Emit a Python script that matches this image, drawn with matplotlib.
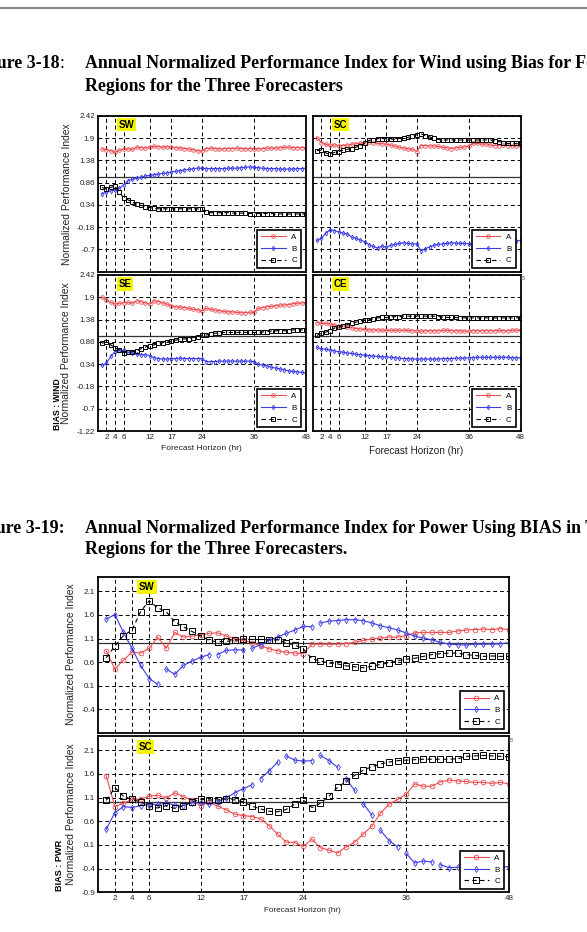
import numpy as np
import matplotlib
matplotlib.use('Agg')
import matplotlib.pyplot as plt
from matplotlib.lines import Line2D

# ---------------- data ----------------
hours = list(range(1, 49))
labels = ['A', 'B', 'C']

wind_xticks = [2, 4, 6, 12, 17, 24, 36, 48]
wind_yticks = [-1.22, -0.7, -0.18, 0.34, 0.86, 1.38, 1.9, 2.42]
pwr_xticks = [2, 4, 6, 12, 17, 24, 36, 48]
pwr_yticks = [-0.9, -0.4, 0.1, 0.6, 1.1, 1.6, 2.1]

wsw_A = [1.65,1.63,1.61,1.57,1.62,1.65,1.65,1.64,1.69,1.68,1.67,1.70,
         1.71,1.70,1.69,1.70,1.69,1.68,1.67,1.66,1.65,1.63,1.61,1.60,
         1.66,1.67,1.66,1.65,1.65,1.66,1.66,1.67,1.66,1.65,1.66,1.65,
         1.65,1.66,1.67,1.67,1.67,1.68,1.69,1.69,1.68,1.68,1.68,1.68]
wsw_B = [0.60,0.64,0.67,0.69,0.73,0.81,0.91,0.94,0.96,0.99,1.02,1.03,
         1.05,1.06,1.08,1.09,1.11,1.13,1.14,1.16,1.17,1.19,1.20,1.20,
         1.19,1.19,1.19,1.19,1.19,1.20,1.20,1.20,1.21,1.22,1.23,1.22,
         1.21,1.20,1.19,1.19,1.19,1.18,1.18,1.18,1.18,1.19,1.19,1.20]
wsw_C = [0.75,0.71,0.75,0.78,0.64,0.50,0.46,0.40,0.36,0.33,0.30,0.28,
         0.26,0.25,0.25,0.25,0.25,0.25,0.25,0.25,0.25,0.25,0.25,0.24,
         0.17,0.16,0.16,0.16,0.16,0.16,0.15,0.15,0.15,0.15,0.14,0.14,
         0.14,0.14,0.14,0.14,0.13,0.13,0.13,0.13,0.13,0.13,0.13,0.13]

wsc_A = [1.91,1.80,1.76,1.74,1.74,1.73,1.73,1.74,1.76,1.77,1.78,1.80,
         1.81,1.80,1.78,1.77,1.76,1.74,1.72,1.69,1.67,1.65,1.64,1.59,
         1.73,1.73,1.72,1.72,1.71,1.69,1.68,1.66,1.68,1.69,1.70,1.72,
         1.78,1.78,1.76,1.77,1.74,1.73,1.73,1.74,1.73,1.72,1.72,1.72]
wsc_B = [-0.49,-0.44,-0.32,-0.24,-0.26,-0.29,-0.32,-0.34,-0.41,-0.44,-0.48,-0.52,
         -0.59,-0.63,-0.67,-0.62,-0.65,-0.60,-0.58,-0.56,-0.54,-0.56,-0.57,-0.57,
         -0.73,-0.68,-0.64,-0.60,-0.58,-0.57,-0.56,-0.54,-0.55,-0.56,-0.56,-0.57,
         -0.56,-0.55,-0.55,-0.56,-0.56,-0.55,-0.54,-0.53,-0.52,-0.51,-0.50,-0.49]
wsc_C = [1.61,1.62,1.56,1.52,1.57,1.59,1.62,1.64,1.66,1.69,1.73,1.78,
         1.85,1.87,1.89,1.89,1.89,1.88,1.88,1.89,1.90,1.92,1.95,1.98,
         2.00,1.96,1.93,1.90,1.87,1.86,1.86,1.86,1.86,1.86,1.86,1.86,
         1.86,1.86,1.86,1.86,1.86,1.84,1.82,1.80,1.78,1.78,1.78,1.78]

wse_A = [1.90,1.84,1.78,1.74,1.76,1.77,1.78,1.76,1.82,1.80,1.77,1.74,
         1.82,1.80,1.77,1.74,1.70,1.68,1.67,1.66,1.64,1.62,1.61,1.58,
         1.64,1.62,1.60,1.59,1.57,1.56,1.56,1.55,1.54,1.54,1.55,1.55,
         1.64,1.66,1.68,1.69,1.70,1.72,1.72,1.73,1.75,1.76,1.77,1.77]
wse_B = [0.31,0.36,0.52,0.63,0.67,0.66,0.62,0.59,0.57,0.56,0.56,0.54,
         0.49,0.47,0.46,0.46,0.47,0.47,0.48,0.47,0.47,0.47,0.47,0.47,
         0.40,0.40,0.40,0.41,0.41,0.41,0.41,0.41,0.41,0.41,0.41,0.40,
         0.34,0.32,0.30,0.27,0.25,0.23,0.21,0.18,0.17,0.16,0.15,0.13]
wse_C = [0.83,0.85,0.79,0.72,0.67,0.61,0.62,0.63,0.65,0.70,0.74,0.77,
         0.79,0.83,0.84,0.86,0.88,0.90,0.92,0.93,0.93,0.96,0.98,1.02,
         1.02,1.04,1.06,1.07,1.08,1.08,1.08,1.08,1.08,1.08,1.08,1.08,
         1.08,1.09,1.10,1.11,1.12,1.12,1.12,1.12,1.14,1.14,1.14,1.14]

wce_A = [1.31,1.29,1.29,1.28,1.25,1.24,1.23,1.21,1.19,1.17,1.16,1.15,
         1.14,1.14,1.14,1.13,1.13,1.13,1.13,1.13,1.13,1.13,1.12,1.12,
         1.11,1.12,1.12,1.12,1.12,1.13,1.13,1.12,1.12,1.12,1.11,1.11,
         1.12,1.12,1.12,1.12,1.12,1.12,1.13,1.12,1.12,1.13,1.13,1.14]
wce_B = [0.73,0.70,0.69,0.67,0.65,0.63,0.62,0.60,0.59,0.57,0.56,0.55,
         0.54,0.53,0.52,0.51,0.51,0.50,0.49,0.48,0.47,0.47,0.46,0.46,
         0.46,0.46,0.46,0.46,0.46,0.47,0.47,0.47,0.48,0.48,0.48,0.49,
         0.49,0.50,0.50,0.50,0.50,0.50,0.50,0.50,0.50,0.49,0.49,0.49]
wce_C = [1.01,1.06,1.09,1.11,1.18,1.20,1.23,1.26,1.29,1.32,1.34,1.37,
         1.38,1.40,1.42,1.43,1.43,1.44,1.45,1.45,1.46,1.46,1.46,1.46,
         1.46,1.46,1.46,1.46,1.45,1.44,1.43,1.43,1.43,1.42,1.42,1.42,
         1.42,1.42,1.42,1.42,1.42,1.42,1.42,1.42,1.42,1.42,1.42,1.42]

psw_A = [0.84,0.45,0.64,0.81,0.79,0.89,1.13,0.89,1.23,1.13,1.15,1.18,
         1.21,1.22,1.15,1.10,1.06,1.01,0.95,0.88,0.84,0.81,0.79,0.78,
         0.98,0.98,0.98,0.98,0.99,1.02,1.06,1.09,1.11,1.13,1.13,1.16,
         1.22,1.23,1.23,1.23,1.23,1.26,1.28,1.29,1.30,1.29,1.31,1.29]
psw_B = [1.51,1.61,1.23,0.89,0.53,0.25,0.13,0.45,0.34,0.53,0.62,0.70,
         0.76,0.76,0.85,0.86,0.86,0.89,0.97,1.06,1.13,1.21,1.28,1.36,
         1.35,1.43,1.47,1.48,1.50,1.50,1.48,1.43,1.37,1.33,1.28,1.22,
         1.15,1.11,1.07,1.02,0.98,0.97,0.96,0.98,0.98,0.98,0.99,1.01]
psw_C = [0.69,0.94,1.16,1.28,1.67,1.90,1.75,1.67,1.45,1.35,1.25,1.16,
         1.06,1.03,1.04,1.06,1.09,1.08,1.08,1.07,1.07,1.01,0.96,0.88,
         0.67,0.62,0.58,0.56,0.52,0.50,0.48,0.51,0.55,0.58,0.63,0.66,
         0.68,0.72,0.76,0.78,0.79,0.79,0.76,0.74,0.72,0.73,0.72,0.72]
# hours after which the B trace is not joined to the next point
psw_B_breaks = [7, 13, 17, 25]

psc_A = [1.56,0.91,0.98,1.06,1.06,1.13,1.15,1.09,1.20,1.12,1.04,0.93,
         1.00,0.92,0.84,0.75,0.72,0.70,0.65,0.51,0.33,0.16,0.15,0.07,
         0.22,0.04,-0.01,-0.07,0.06,0.16,0.33,0.50,0.77,0.96,1.06,1.17,
         1.39,1.34,1.34,1.43,1.47,1.45,1.44,1.42,1.42,1.40,1.42,1.39]
psc_B = [0.43,0.78,0.91,0.89,0.93,0.95,0.96,0.98,0.94,0.93,0.99,0.99,
         0.96,1.00,1.10,1.20,1.29,1.37,1.50,1.66,1.85,1.98,1.89,1.87,
         1.88,1.99,1.88,1.74,1.49,1.25,0.97,0.73,0.41,0.19,0.06,-0.08,
         -0.28,-0.24,-0.26,-0.32,-0.38,-0.37,-0.38,-0.38,-0.38,-0.37,-0.37,-0.36]
psc_C = [1.04,1.31,1.13,1.06,1.01,0.92,0.88,0.93,0.87,0.93,1.01,1.06,
         1.05,1.05,1.07,1.05,1.01,0.92,0.86,0.81,0.80,0.85,0.96,1.05,
         0.89,0.98,1.13,1.32,1.44,1.57,1.68,1.75,1.81,1.85,1.88,1.89,
         1.90,1.91,1.91,1.91,1.91,1.92,1.97,1.98,1.99,1.98,1.97,1.96]
psc_B_breaks = [18, 21, 25, 28, 30, 32, 35, 39]

# ---------------- figure ----------------
W, H = 587, 932
fig = plt.figure(figsize=(W / 100, H / 100), dpi=100)
fig.patch.set_facecolor('white')
SANS = ['Liberation Sans', 'DejaVu Sans']
SERIF = ['Liberation Serif', 'DejaVu Serif']
RED = '#ec4d52'
BLUE = '#3c3ce6'


def px_axes(l, t, r, b):
    return fig.add_axes([l / W, 1 - b / H, (r - l) / W, (b - t) / H])


def ftext(x, y, s, **kw):
    return fig.text(x / W, 1 - y / H, s, **kw)


def broken(xs, ys, breaks):
    bx, by = [], []
    for x, y in zip(xs, ys):
        bx.append(x)
        by.append(y)
        if x in breaks:
            bx.append(np.nan)
            by.append(np.nan)
    return bx, by


def panel(ax, A, B, C, ylim, yticks, show_y, hide_bottom_y, show_x, tag, tagxy,
          ms_scale=1.0, b_breaks=()):
    ax.set_xlim(0, 48)
    ax.set_ylim(*ylim)
    ax.set_axisbelow(True)
    ax.grid(True, color='k', linestyle=(0, (4, 3)), linewidth=0.7)
    ax.axhline(1.0, color='#333333', linewidth=0.9, zorder=1.5)
    ax.plot(hours, A, color=RED, lw=0.8, marker='o', ms=2.6 * ms_scale,
            mfc='none', mec=RED, mew=0.6, label=labels[0])
    bx, by = broken(hours, B, b_breaks)
    ax.plot(bx, by, color=BLUE, lw=0.8)
    ax.plot(hours, B, color=BLUE, lw=0.8, ls='none', marker='d', ms=2.4 * ms_scale,
            mfc='none', mec=BLUE, mew=0.6)
    ax.plot(hours, C, color='k', lw=0.8, ls=(0, (4, 3)), marker='s',
            ms=3.0 * ms_scale, mfc='none', mec='k', mew=0.7, label=labels[2])
    hb = Line2D([], [], color=BLUE, lw=0.8, marker='d', ms=2.4 * ms_scale,
                mfc='none', mec=BLUE, mew=0.6)
    ax.set_xticks(wind_xticks)
    ax.set_yticks(yticks)
    if show_y:
        lbls = [('%g' % v) for v in yticks]
        if hide_bottom_y:
            lbls[0] = ''
        ax.set_yticklabels(lbls)
    else:
        ax.set_yticklabels([])
    if not show_x:
        ax.set_xticklabels([])
    ax.tick_params(direction='in', length=2.5, width=0.6, labelsize=5.8, pad=2)
    for lab in ax.get_xticklabels() + ax.get_yticklabels():
        lab.set_family(SANS)
        lab.set_color('#222222')
    for sp in ax.spines.values():
        sp.set_linewidth(1.3)
    h, l = ax.get_legend_handles_labels()
    handles = [h[0], hb, h[1]]
    leg = ax.legend(handles, labels, loc='lower right', bbox_to_anchor=(0.975, 0.024),
                    borderaxespad=0, handlelength=3.1,
                    handletextpad=0.7, labelspacing=0.5, borderpad=0.45,
                    fancybox=False, framealpha=1, prop={'family': SANS, 'size': 5.8})
    leg.get_frame().set_edgecolor('k')
    leg.get_frame().set_linewidth(1.2)
    ax.text(tagxy[0], tagxy[1], tag, fontsize=7, fontweight='bold', family=SANS,
            ha='left', va='center', zorder=5,
            bbox=dict(facecolor='#f5f500', edgecolor='none', pad=1.4))
    return leg


# ---------- page decorations ----------
fig.add_artist(Line2D([0, 1], [1 - 7.5 / H, 1 - 7.5 / H], transform=fig.transFigure,
                      color='#8a8a8a', lw=1.6))

CAP = 12.9
cap_kw = dict(fontsize=CAP, fontweight='bold', family=SERIF, color='black', va='baseline')
ftext(59.5, 68.5, 'Figure 3-18', ha='right', **cap_kw)
ftext(59.5, 68.5, ':', ha='left', fontsize=CAP, family=SERIF, color='black', va='baseline')
ftext(85, 68.5, 'Annual Normalized Performance Index for Wind using Bias for Four', ha='left', **cap_kw)
ftext(85, 91, 'Regions for the Three Forecasters', ha='left', **cap_kw)

ftext(65, 533, 'Figure 3-19:', ha='right', **cap_kw)
ftext(85, 533, 'Annual Normalized Performance Index for Power Using BIAS in Two', ha='left', **cap_kw)
ftext(85, 554.5, 'Regions for the Three Forecasters.', ha='left', **cap_kw)

# ---------- wind panels ----------
wylim = (-1.22, 2.42)
ax1 = px_axes(97.7, 116, 306, 271.7)
panel(ax1, wsw_A, wsw_B, wsw_C, wylim, wind_yticks, True, True, False, 'SW', (4.8, 2.22))
ax2 = px_axes(312.7, 116, 520.7, 271.7)
panel(ax2, wsc_A, wsc_B, wsc_C, wylim, wind_yticks, False, True, False, 'SC', (4.8, 2.22))
ax3 = px_axes(97.7, 275, 306, 431)
panel(ax3, wse_A, wse_B, wse_C, wylim, wind_yticks, True, False, True, 'SE', (4.8, 2.22))
ax4 = px_axes(312.7, 275, 520.7, 431)
panel(ax4, wce_A, wce_B, wce_C, wylim, wind_yticks, False, False, True, 'CE', (4.8, 2.22))

lab_kw = dict(family=SANS, color='#222222')
ftext(66.5, 194, 'Normalized Performance Index', rotation=90, ha='center', va='center', fontsize=7.4, **lab_kw)
ftext(66, 353, 'Normalized Performance Index', rotation=90, ha='center', va='center', fontsize=7.4, **lab_kw)
ftext(57, 430, 'BIAS : WIND', rotation=90, ha='center', va='bottom', fontsize=6.2,
      fontweight='bold', family=SANS, color='black')
ftext(201, 449, 'Forecast Horizon (hr)', ha='center', va='center', fontsize=6.1, **lab_kw)
ftext(416, 451, 'Forecast Horizon (hr)', ha='center', va='center', fontsize=7.2, **lab_kw)
ftext(522.5, 279, 'B', ha='center', va='center', fontsize=4.5, color='#555555', family=SANS)

# ---------- power panels ----------
pylim = (-0.9, 2.4)
ax5 = px_axes(97.7, 577.3, 509, 732.7)
lg5 = panel(ax5, psw_A, psw_B, psw_C, pylim, pwr_yticks, True, True, False, 'SW', (4.8, 2.19),
            ms_scale=1.3, b_breaks=psw_B_breaks)
ax6 = px_axes(97.7, 736, 509, 892.3)
lg6 = panel(ax6, psc_A, psc_B, psc_C, pylim, pwr_yticks, True, False, True, 'SC', (4.8, 2.17),
            ms_scale=1.3, b_breaks=psc_B_breaks)
for lg in (lg5, lg6):
    lg.set_bbox_to_anchor((0.987, 0.022))

ftext(71, 654, 'Normalized Performance Index', rotation=90, ha='center', va='center', fontsize=7.4, **lab_kw)
ftext(71, 814, 'Normalized Performance Index', rotation=90, ha='center', va='center', fontsize=7.4, **lab_kw)
ftext(59, 891, 'BIAS : PWR', rotation=90, ha='center', va='bottom', fontsize=6.6,
      fontweight='bold', family=SANS, color='black')
ftext(302.5, 910.5, 'Forecast Horizon (hr)', ha='center', va='center', fontsize=5.9, **lab_kw)
ftext(511, 740, 'B', ha='center', va='center', fontsize=4.5, color='#555555', family=SANS)

fig.savefig('out.png', dpi=100, facecolor='white')
